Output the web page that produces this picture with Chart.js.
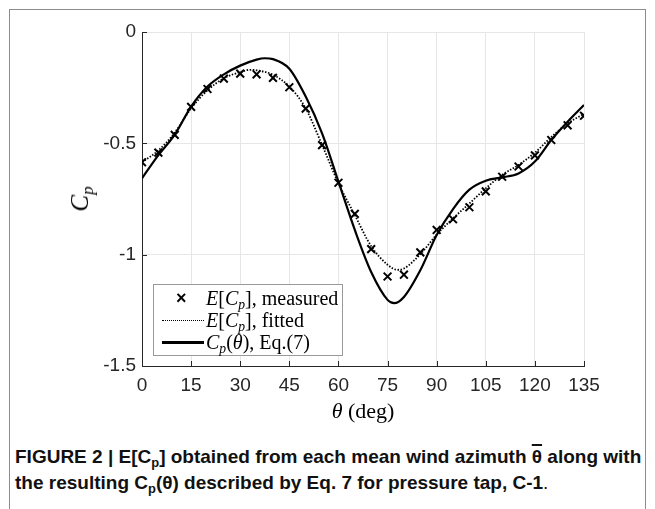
<!DOCTYPE html>
<html>
<head>
<meta charset="utf-8">
<script src="https://cdn.jsdelivr.net/npm/chart.js@4"></script>
<style>
  html, body { margin: 0; padding: 0; background: #fff; }
  #fig { position: relative; width: 655px; height: 509px; overflow: hidden; }
  #frame { position: absolute; left: 9px; top: 9px; width: 637px; height: 520px; border: 1px solid #8c8c8c; box-sizing: border-box; }
  #chart { position: absolute; left: 0; top: 0; }
  .serif { font-family: "Liberation Serif", "Times New Roman", serif; color: #000; }
  #xtitle { position: absolute; left: 263px; width: 200px; top: 398px; text-align: center; font-size: 22px; }
  #ytitle { position: absolute; left: 80px; top: 199px; font-size: 25px; transform: translate(-50%, -50%) rotate(-90deg); white-space: nowrap; }
  #legend { position: absolute; left: 153px; top: 284px; width: 190px; height: 72px; box-sizing: border-box; border: 1px solid #999; background: #fff; font-size: 20px; }
  .row { position: absolute; left: 0; height: 22px; line-height: 22px; white-space: nowrap; }
  .row .txt { position: absolute; left: 52px; top: 0; }
  .row .mark { position: absolute; left: 22px; top: 0; font-family: "Liberation Sans", sans-serif; font-size: 18px; font-weight: bold; }
  .row .dots { position: absolute; left: 8px; top: 11px; width: 42px; border-top: 1.5px dotted #000; }
  .row .solid { position: absolute; left: 8px; top: 10px; width: 42px; border-top: 3px solid #000; }
  sub { font-size: 0.68em; vertical-align: -0.3em; line-height: 0; }
  #caption { position: absolute; left: 15px; top: 444px; width: 640px; font-family: "Liberation Sans", Arial, sans-serif; font-weight: bold; font-size: 19px; line-height: 26px; color: #111; white-space: nowrap; }
  #caption .plain { font-weight: normal; }
  .bar { text-decoration: overline; text-decoration-thickness: 2px; }
</style>
</head>
<body>
<div id="fig">
  <div id="frame"></div>
  <canvas id="chart" width="655" height="400"></canvas>
  <div id="xtitle" class="serif"><i>θ</i> (deg)</div>
  <div id="ytitle" class="serif"><i>C<sub>p</sub></i></div>
  <div id="legend" class="serif">
    <div class="row" style="top: 2px;"><span class="mark">×</span><span class="txt"><i>E</i>[<i>C<sub>p</sub></i>], measured</span></div>
    <div class="row" style="top: 24px;"><span class="dots"></span><span class="txt"><i>E</i>[<i>C<sub>p</sub></i>], fitted</span></div>
    <div class="row" style="top: 46px;"><span class="solid"></span><span class="txt"><i>C<sub>p</sub></i>(<i>θ</i>), Eq.(7)</span></div>
  </div>
  <div id="caption">
    FIGURE 2 | E[C<sub>p</sub>] obtained from each mean wind azimuth <span class="bar">θ</span> along with<br>
    the resulting C<sub>p</sub>(θ) described by Eq. 7 for pressure tap, C-1<span class="plain">.</span>
  </div>
</div>
<script>
// measured mean pressure coefficient at each wind azimuth
const thetaMeasured = [0, 5, 10, 15, 20, 25, 30, 35, 40, 45, 50, 55, 60, 65, 70, 75, 80, 85, 90, 95, 100, 105, 110, 115, 120, 125, 130, 135];
const cpMeasured = [-0.585, -0.542, -0.462, -0.336, -0.256, -0.209, -0.187, -0.19, -0.206, -0.248, -0.344, -0.508, -0.677, -0.817, -0.975, -1.098, -1.09, -0.99, -0.889, -0.841, -0.787, -0.716, -0.65, -0.604, -0.554, -0.485, -0.419, -0.376];

// fitted E[Cp] curve
const thetaFitted = [0, 5, 10, 15, 20, 25, 30, 33, 35, 40, 45, 50, 55, 60, 65, 70, 75, 78, 80, 85, 90, 95, 100, 105, 110, 115, 120, 125, 130, 135];
const cpFitted = [-0.585, -0.532, -0.452, -0.343, -0.262, -0.208, -0.18, -0.17, -0.172, -0.192, -0.245, -0.343, -0.507, -0.679, -0.822, -0.962, -1.045, -1.068, -1.062, -0.998, -0.91, -0.837, -0.77, -0.702, -0.642, -0.597, -0.542, -0.472, -0.41, -0.368];

// Cp(theta) from Eq.(7)
const thetaEq7 = [0, 5, 10, 15, 20, 25, 30, 35, 37.5, 40, 45, 50, 55, 60, 65, 70, 75, 77, 80, 85, 90, 95, 100, 105, 110, 115, 120, 125, 130, 135];
const cpEq7 = [-0.657, -0.553, -0.461, -0.335, -0.245, -0.19, -0.151, -0.124, -0.118, -0.122, -0.165, -0.29, -0.455, -0.672, -0.889, -1.078, -1.203, -1.218, -1.19, -1.07, -0.912, -0.795, -0.708, -0.668, -0.653, -0.635, -0.582, -0.485, -0.403, -0.328];

const xTicks = [0, 15, 30, 45, 60, 75, 90, 105, 120, 135];
const yTicks = [0, -0.5, -1, -1.5];

const toPoints = (xs, ys) => xs.map((x, i) => ({ x: x, y: ys[i] }));

const axisColor = "#262626";
const tickFont = { family: "Liberation Sans", size: 19 };

// short inward tick marks like MATLAB axes
const inwardTicks = {
  id: "inwardTicks",
  afterDraw(chart) {
    const ctx = chart.ctx;
    const xs = chart.scales.x;
    const ys = chart.scales.y;
    const area = chart.chartArea;
    ctx.save();
    ctx.strokeStyle = axisColor;
    ctx.lineWidth = 1;
    ctx.beginPath();
    xTicks.forEach((t) => {
      const px = Math.round(xs.getPixelForValue(t)) + 0.5;
      ctx.moveTo(px, area.bottom);
      ctx.lineTo(px, area.bottom - 5);
    });
    yTicks.forEach((t) => {
      const py = Math.round(ys.getPixelForValue(t)) + 0.5;
      ctx.moveTo(area.left, py);
      ctx.lineTo(area.left + 5, py);
    });
    ctx.stroke();
    ctx.restore();
  },
};

const ctx = document.getElementById("chart").getContext("2d");
const myChart = new Chart(ctx, {
  type: "line",
  data: {
    datasets: [
      {
        label: "E[Cp], measured",
        data: toPoints(thetaMeasured, cpMeasured),
        showLine: false,
        pointStyle: "crossRot",
        pointRadius: 5.5,
        pointBorderWidth: 2,
        borderColor: "#000",
        backgroundColor: "#000",
        order: 0,
      },
      {
        label: "E[Cp], fitted",
        data: toPoints(thetaFitted, cpFitted),
        borderColor: "#000",
        borderWidth: 1.8,
        borderDash: [1.5, 1.6],
        pointRadius: 0,
        cubicInterpolationMode: "monotone",
        order: 1,
      },
      {
        label: "Cp(theta), Eq.(7)",
        data: toPoints(thetaEq7, cpEq7),
        borderColor: "#000",
        borderWidth: 2.2,
        pointRadius: 0,
        cubicInterpolationMode: "monotone",
        order: 2,
      },
    ],
  },
  options: {
    responsive: false,
    animation: false,
    events: [],
    layout: { padding: { top: 32, right: 71, left: 0, bottom: 0 } },
    plugins: { legend: { display: false }, tooltip: { enabled: false } },
    scales: {
      x: {
        type: "linear",
        min: 0,
        max: 135,
        afterBuildTicks: (scale) => {
          scale.ticks = xTicks.map((v) => ({ value: v }));
        },
        afterFit: (scale) => {
          scale.height = 34;
        },
        ticks: { font: tickFont, color: axisColor, padding: 8, maxRotation: 0, autoSkip: false },
        grid: { color: "#e6e6e6", drawTicks: false },
        border: { display: true, color: axisColor, width: 1 },
      },
      y: {
        type: "linear",
        min: -1.5,
        max: 0,
        afterBuildTicks: (scale) => {
          scale.ticks = yTicks.map((v) => ({ value: v }));
        },
        afterFit: (scale) => {
          scale.width = 142;
        },
        ticks: { font: tickFont, color: axisColor, padding: 6, callback: (v) => String(v) },
        grid: { color: "#e6e6e6", drawTicks: false },
        border: { display: true, color: axisColor, width: 1 },
      },
    },
  },
  plugins: [inwardTicks],
});
</script>
</body>
</html>
